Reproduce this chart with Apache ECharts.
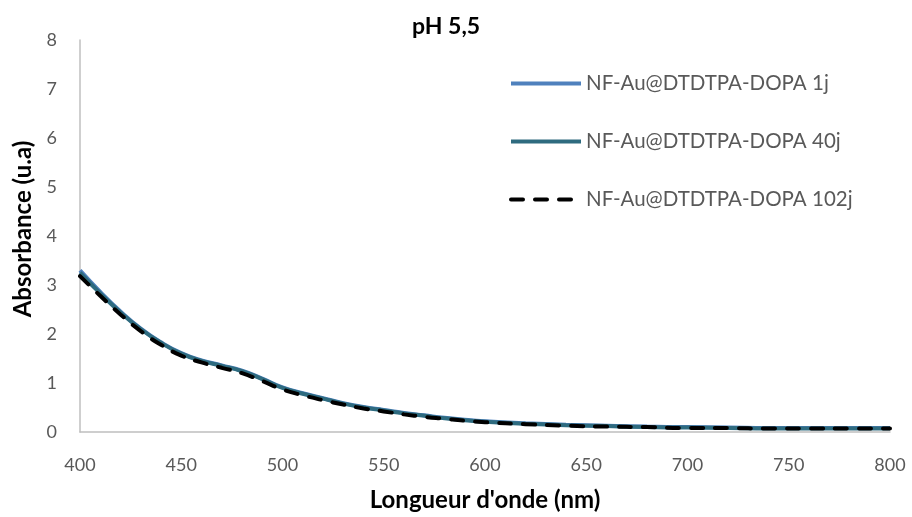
<!DOCTYPE html>
<html>
<head>
<meta charset="utf-8">
<script src="https://cdn.jsdelivr.net/npm/echarts@6/dist/echarts.min.js"></script>
<style>
  html, body { margin: 0; padding: 0; background: #fff; }
  #chart { width: 912px; height: 517px; }
</style>
</head>
<body>
<div id="chart"></div>
<script>
// wavelengths (nm)
const wavelengths = [400, 410, 420, 430, 440, 450, 460, 470, 480, 490, 500, 510, 520, 530, 540, 550,
    560, 570, 580, 590, 600, 620, 640, 660, 680, 700, 720, 740, 760, 780, 800];

// absorbance for each aging time
const abs1j = [3.30, 2.86, 2.46, 2.11, 1.83, 1.61, 1.46, 1.36, 1.25, 1.09, 0.91, 0.79, 0.69, 0.59, 0.51, 0.45,
    0.39, 0.34, 0.29, 0.25, 0.22, 0.18, 0.15, 0.13, 0.11, 0.10, 0.09, 0.08, 0.08, 0.08, 0.08];
const abs40j = [3.25, 2.83, 2.44, 2.10, 1.82, 1.60, 1.45, 1.35, 1.24, 1.08, 0.90, 0.78, 0.68, 0.58, 0.50, 0.44,
    0.38, 0.33, 0.28, 0.24, 0.21, 0.17, 0.14, 0.12, 0.10, 0.09, 0.08, 0.07, 0.07, 0.07, 0.07];
const abs102j = [3.18, 2.78, 2.40, 2.06, 1.78, 1.56, 1.42, 1.31, 1.20, 1.04, 0.87, 0.75, 0.65, 0.56, 0.48, 0.42,
    0.36, 0.31, 0.27, 0.23, 0.20, 0.16, 0.13, 0.11, 0.10, 0.08, 0.08, 0.07, 0.07, 0.07, 0.07];

const seriesNames = ['NF-Au@DTDTPA-DOPA 1j', 'NF-Au@DTDTPA-DOPA 40j', 'NF-Au@DTDTPA-DOPA 102j'];

const font = 'Lato, "Open Sans", sans-serif';
const pair = (ys) => wavelengths.map((x, i) => [x, ys[i]]);

const chart = echarts.init(document.getElementById('chart'));

chart.setOption({
    animation: false,
    title: {
        text: 'pH 5,5',
        left: 412,
        top: 15,
        padding: 0,
        textStyle: { fontFamily: font, fontSize: 23, fontWeight: 'bold', color: '#000' }
    },
    legend: {
        orient: 'vertical',
        left: 509,
        top: 73,
        padding: 0,
        itemGap: 37,
        itemWidth: 70,
        itemHeight: 20,
        itemStyle: { opacity: 0 },
        lineStyle: { width: 4 },
        textStyle: { fontFamily: font, fontSize: 20.5, color: '#595959' },
        data: seriesNames
    },
    grid: { left: 80, right: 22, top: 40, bottom: 83 },
    xAxis: {
        type: 'value',
        min: 400,
        max: 800,
        interval: 50,
        name: "Longueur d'onde (nm)",
        nameLocation: 'middle',
        nameGap: 56,
        nameTextStyle: { fontFamily: font, fontSize: 24, fontWeight: 'bold', color: '#000' },
        axisLine: { lineStyle: { color: '#bfbfbf', width: 1.5 } },
        axisTick: { show: false },
        splitLine: { show: false },
        axisLabel: { fontFamily: font, fontSize: 18, color: '#595959', margin: 24 }
    },
    yAxis: {
        type: 'value',
        min: 0,
        max: 8,
        interval: 1,
        name: 'Absorbance (u.a)',
        nameLocation: 'middle',
        nameGap: 45,
        nameTextStyle: { fontFamily: font, fontSize: 24, fontWeight: 'bold', color: '#000', padding: [0, 0, 0, 14] },
        axisLine: { show: true, lineStyle: { color: '#bfbfbf', width: 1.5 } },
        axisTick: { show: false },
        splitLine: { show: false },
        axisLabel: { fontFamily: font, fontSize: 18, color: '#595959', margin: 23 }
    },
    series: [
        {
            name: seriesNames[0],
            type: 'line',
            data: pair(abs1j),
            smooth: true,
            showSymbol: false,
            lineStyle: { color: '#4f81bd', width: 4 },
            itemStyle: { color: '#4f81bd' }
        },
        {
            name: seriesNames[1],
            type: 'line',
            data: pair(abs40j),
            smooth: true,
            showSymbol: false,
            lineStyle: { color: '#2e6b7f', width: 4 },
            itemStyle: { color: '#2e6b7f' }
        },
        {
            name: seriesNames[2],
            type: 'line',
            data: pair(abs102j),
            smooth: true,
            showSymbol: false,
            lineStyle: { color: '#000', width: 4, type: [12, 12], cap: 'round' },
            itemStyle: { color: '#000' }
        }
    ]
});
</script>
</body>
</html>
